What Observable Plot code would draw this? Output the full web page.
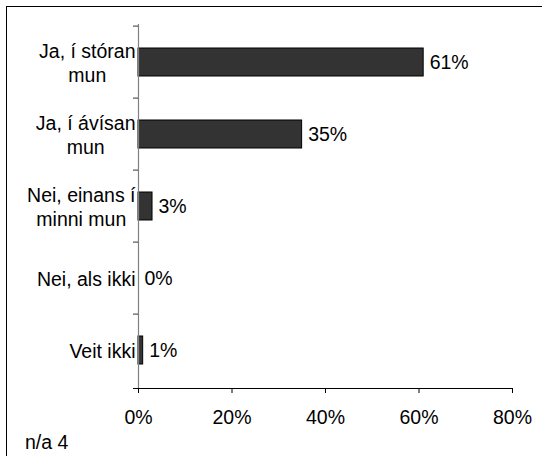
<!DOCTYPE html>
<html>
<head>
<meta charset="utf-8">
<script src="https://cdn.jsdelivr.net/npm/d3@7"></script>
<script src="https://cdn.jsdelivr.net/npm/@observablehq/plot@0.6"></script>
<style>
  html, body { margin: 0; padding: 0; background: #fff; overflow: hidden; }
  #wrap { position: relative; width: 542px; height: 456px; }
  #border { position: absolute; left: 6px; top: 6px; width: 700px; height: 700px; border-left: 1px solid #000; border-top: 1px solid #000; }
  figure { margin: 0; }
  figcaption { font-family: "Liberation Sans", Arial, sans-serif; font-size: 19.5px; line-height: 23px; color: #000; padding-left: 25px; margin: 0; }
</style>
</head>
<body>
<div id="wrap"><div id="border"></div></div>
<script>
const categories = ["Ja, í stóran\nmun", "Ja, í ávísan\nmun", "Nei, einans í\nminni mun", "Nei, als ikki", "Veit ikki"];
const values = [61, 35, 3, 0, 1];
const xTicks = [0, 20, 40, 60, 80];
const caption = "n/a 4";

const FONT = '"Liberation Sans", Arial, sans-serif';
const FS = 19.5;
const data = categories.map((c, i) => ({cat: c, value: values[i]}));

const ctx = document.createElement("canvas").getContext("2d");
ctx.font = `${FS}px "Liberation Sans"`;
const blockWidth = (s) => d3.max(s.split("\n"), l => ctx.measureText(l).width);

const H = 431, MT = 24, MB = 43;
const step = (H - MT - MB) / categories.length;

const labelMarks = categories.map(c =>
  Plot.text([c], {
    y: d => d, text: d => d, frameAnchor: "left",
    textAnchor: "middle", lineAnchor: "middle", lineHeight: 1.2,
    dx: -(3 + blockWidth(c) / 2), fill: "#000"
  })
);

const chart = Plot.plot({
  width: 542,
  height: H,
  marginLeft: 138,
  marginRight: 30,
  marginTop: MT,
  marginBottom: MB,
  caption: caption,
  style: { fontFamily: FONT, fontSize: FS + "px", color: "#000", background: "transparent", overflow: "visible" },
  x: { domain: [0, 80], label: null },
  y: { domain: categories, paddingInner: 0.61, paddingOuter: 0.305, label: null },
  marks: [
    Plot.barX(data.filter(d => d.value > 0), { x: "value", y: "cat", fill: "#333333", stroke: "#000", strokeWidth: 1 }),
    Plot.ruleX([0], { stroke: "#808080", strokeWidth: 1.2 }),
    Plot.frame({ anchor: "bottom", stroke: "#000", insetLeft: -5 }),
    Plot.axisY({ tickSize: 5, tickFormat: () => "", dy: -step / 2, stroke: "#333", label: null }),
    Plot.axisX({ ticks: xTicks, tickFormat: d => d + "%", tickSize: 5, tickPadding: 17, stroke: "#000", fill: "#000", fontSize: FS, label: null }),
    Plot.text(data, { x: "value", y: "cat", text: d => d.value + "%", textAnchor: "start", dx: 6, fill: "#000" }),
    ...labelMarks
  ]
});
document.getElementById("wrap").appendChild(chart);
</script>
</body>
</html>
